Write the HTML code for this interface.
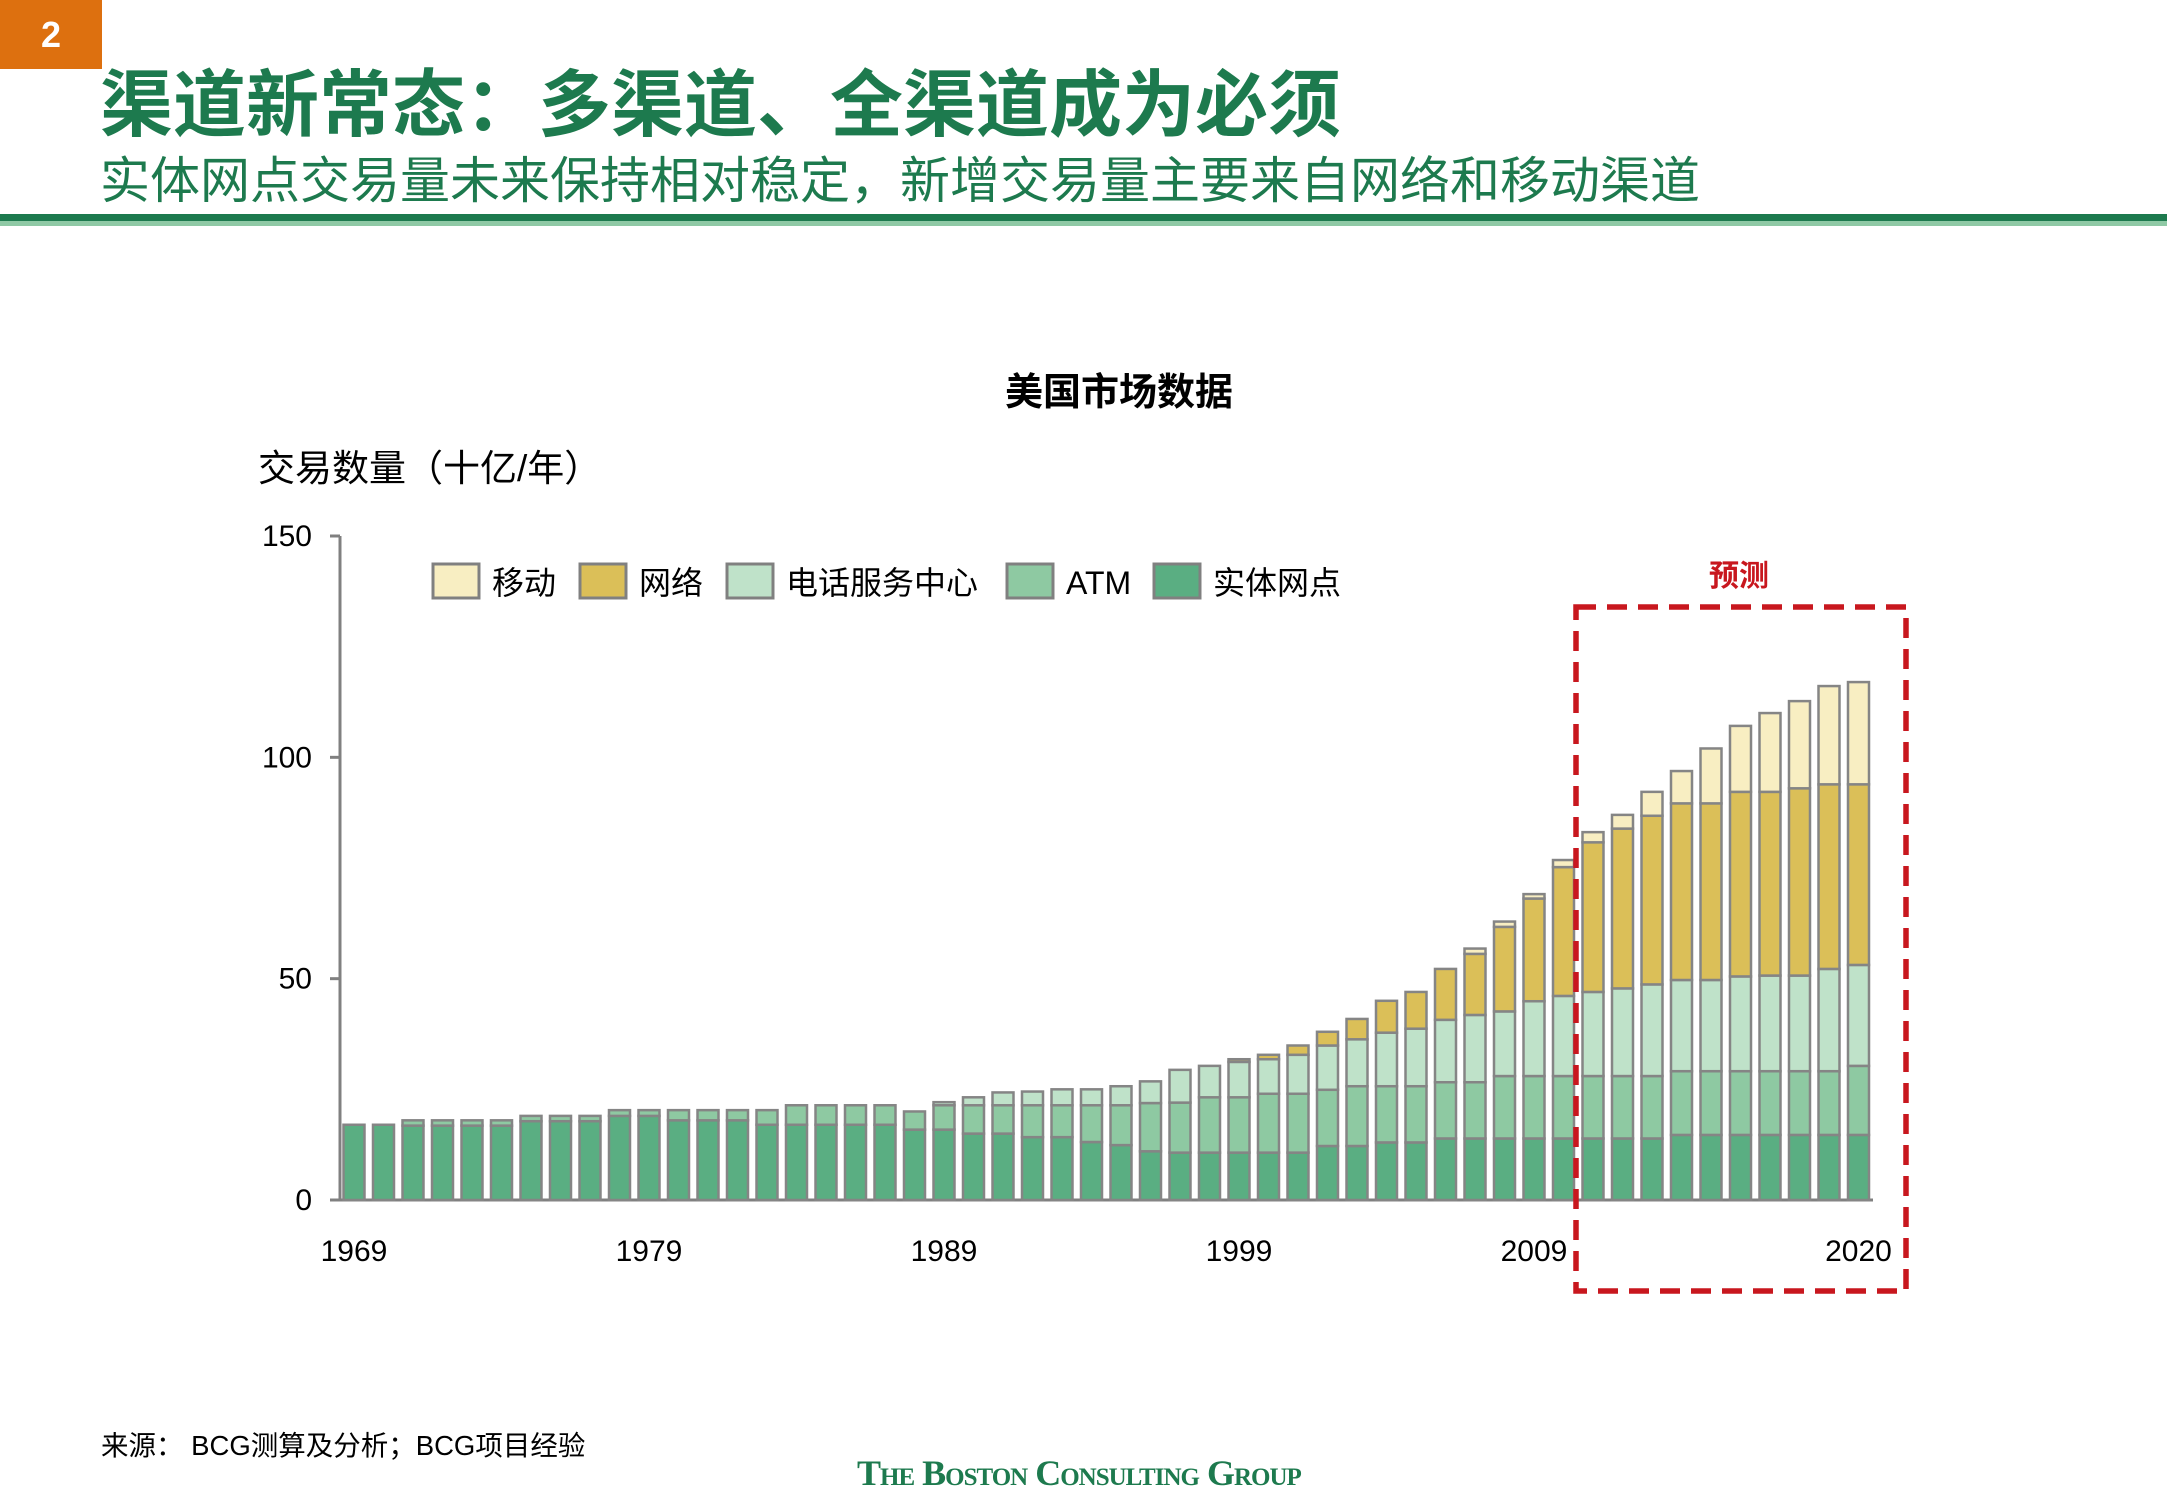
<!DOCTYPE html>
<html><head><meta charset="utf-8">
<style>
html,body{margin:0;padding:0;background:#fff;}
body{width:2167px;height:1500px;position:relative;overflow:hidden;font-family:"Liberation Sans","Noto Sans CJK SC",sans-serif;}
.abs{position:absolute;white-space:nowrap;}
</style></head><body>
<div class="abs" style="left:0;top:0;width:102px;height:69px;background:#dd700f;color:#fff;font-weight:bold;font-size:36px;line-height:69px;text-align:center;">2</div>
<div class="abs" style="left:100px;top:66px;font-size:73px;font-weight:bold;color:#1d7a4e;line-height:80px;">渠道新常态：多渠道、全渠道成为必须</div>
<div class="abs" style="left:100px;top:152px;font-size:50px;color:#1d7a4e;line-height:58px;">实体网点交易量未来保持相对稳定，新增交易量主要来自网络和移动渠道</div>
<div class="abs" style="left:0;top:214px;width:2167px;height:7px;background:#1d7a4e;"></div>
<div class="abs" style="left:0;top:221px;width:2167px;height:5px;background:#8fc9a5;"></div>

<svg class="abs" style="left:0;top:0" width="2167" height="1500">
<text x="1119" y="405" font-size="38" font-weight="bold" text-anchor="middle" fill="#000">美国市场数据</text>
<text x="258" y="481" font-size="37" fill="#000">交易数量（十亿/年）</text>
<g id="axes"></g>
<g id="bars"></g>
<g id="legend"></g>
<text x="1739" y="586" font-size="30" font-weight="bold" text-anchor="middle" fill="#c8171e">预测</text>
<rect x="1576" y="607" width="330" height="684" fill="none" stroke="#c8171e" stroke-width="5.5" stroke-dasharray="20,11"/>
</svg>

<div class="abs" style="left:101px;top:1423px;font-size:27.5px;color:#000;">来源： BCG测算及分析；BCG项目经验</div>
<div class="abs" style="left:857px;top:1452px;font-size:36px;font-family:'Liberation Serif',serif;font-weight:bold;font-variant:small-caps;color:#1d7a4e;letter-spacing:-1px;">The Boston Consulting Group</div>

<script>
const years = [];
for (let y = 1969; y <= 2020; y++) years.push(y);
const branch = [17,17,16.8,16.8,16.8,16.8,17.8,17.8,17.8,19,19,18,18,18,17,17,17,17,17,15.9,15.9,15,15,14.2,14.2,13.1,12.4,11,
  10.7,10.7,10.7,10.7,10.7,12.2,12.2,13,13,13.9,13.9,13.9,13.9,13.9,13.9,13.9,13.9,14.7,14.7,14.7,14.7,14.7,14.7,14.7];
const atm = [0,0,1.2,1.2,1.2,1.2,1.2,1.2,1.2,1.3,1.3,2.3,2.3,2.3,3.3,4.4,4.4,4.4,4.4,4.1,5.5,6.4,6.4,7.2,7.2,8.3,9,10.9,
  11.3,12.5,12.5,13.3,13.3,12.7,13.5,12.7,12.7,12.7,12.7,14.1,14.1,14.1,14.1,14.1,14.1,14.4,14.4,14.4,14.4,14.4,14.4,15.6];
const phone = [0,0,0,0,0,0,0,0,0,0,0,0,0,0,0,0,0,0,0,0,0.7,1.8,2.9,3.1,3.6,3.6,4.3,4.9,
  7.4,7.1,8,7.8,8.8,10,10.6,12.1,13,14.1,15.2,14.6,16.9,18.1,19,19.8,20.7,20.6,20.6,21.4,21.6,21.6,23.1,22.8];
const internet = [0,0,0,0,0,0,0,0,0,0,0,0,0,0,0,0,0,0,0,0,0,0,0,0,0,0,0,0,0,0,
  0.6,1,2.1,3.1,4.6,7.2,8.3,11.5,13.8,19.1,23.2,29.1,33.8,36.1,38.1,39.9,39.9,41.7,41.5,42.3,41.7,40.8];
const mobile = [0,0,0,0,0,0,0,0,0,0,0,0,0,0,0,0,0,0,0,0,0,0,0,0,0,0,0,0,0,0,0,0,0,0,0,0,0,0,
  1.2,1.2,1,1.6,2.3,3.1,5.4,7.3,12.4,14.9,17.8,19.7,22.2,23.1];
const yTicks = [0,50,100,150];
const xLabels = [1969,1979,1989,1999,2009,2020];
const seriesNames = ['实体网点','ATM','电话服务中心','网络','移动'];
const seriesColors = ['#5aae82','#8ec9a2','#bfe2c9','#dbbf58','#f8eec2'];
const legendOrder = [4,3,2,1,0];

const NS = 'http://www.w3.org/2000/svg';
function yScale(v){ return 1200 - v * (664/150); }
function xScale(yr){ return 354 + (yr - 1969) * 29.5; }
function mk(tag, attrs, parent){
  const e = document.createElementNS(NS, tag);
  for (const k in attrs) e.setAttribute(k, attrs[k]);
  parent.appendChild(e); return e;
}
const axes = document.getElementById('axes');
const yAxis = mk('line',{x1:340,y1:yScale(150),x2:340,y2:yScale(0),stroke:'#808080','stroke-width':3},axes);


const xAxis = mk('line',{x1:340,y1:yScale(0),x2:1873,y2:yScale(0),stroke:'#808080','stroke-width':3},axes);


yTicks.forEach(t => {
  const tk = mk('line',{x1:330,y1:yScale(t),x2:340,y2:yScale(t),stroke:'#808080','stroke-width':3},axes);
  
  
  const lb = mk('text',{x:312,y:yScale(t)+10,'font-size':30,'text-anchor':'end',fill:'#000'},axes);
  lb.textContent = t;
  
  
});
xLabels.forEach(yr => {
  const lb = mk('text',{x:xScale(yr),y:1261,'font-size':30,'text-anchor':'middle',fill:'#000'},axes);
  lb.textContent = yr;
  
  
});
const bars = document.getElementById('bars');
const series = [branch, atm, phone, internet, mobile];
const segNames = ['branch','atm','phone','internet','mobile'];
years.forEach((yr,i) => {
  let base = 0;
  series.forEach((s,k) => {
    const v = s[i];
    if (v > 0) {
      const r = mk('rect',{x:xScale(yr)-10.5,y:yScale(base+v),width:21,height:yScale(base)-yScale(base+v),fill:seriesColors[k],stroke:'#858585','stroke-width':2.5},bars);
      
      
    }
    base += v;
  });
});
const legend = document.getElementById('legend');
const legendX = [433,580,727,1007,1154];
legendOrder.forEach((k,j) => {
  const g = mk('g',{},legend);
  
  
  mk('rect',{x:legendX[j],y:564,width:46,height:34,fill:seriesColors[k],stroke:'#808080','stroke-width':3},g);
  const t = mk('text',{x:legendX[j]+59,y:594,'font-size':32,fill:'#000'},g);
  t.textContent = seriesNames[k];
});
</script>
</body></html>
